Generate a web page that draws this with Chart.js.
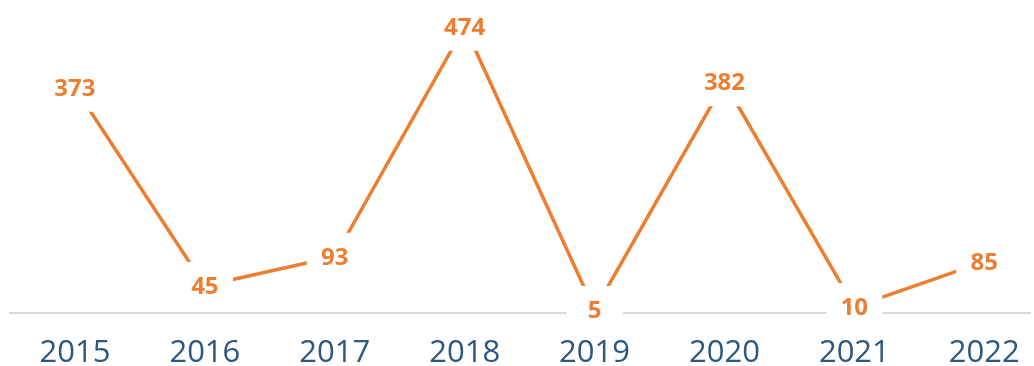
<!DOCTYPE html>
<html>
<head>
<meta charset="utf-8">
<script src="https://cdn.jsdelivr.net/npm/chart.js@4"></script>
<style>
  html, body { margin: 0; padding: 0; background: #ffffff; }
  #wrap { width: 1034px; height: 366px; }
</style>
</head>
<body>
<div id="wrap"><canvas id="chart" width="1034" height="366"></canvas></div>
<script>
const years = ['2015', '2016', '2017', '2018', '2019', '2020', '2021', '2022'];
const counts = [373, 45, 93, 474, 5, 382, 10, 85];

const lineColor = '#ED7D31';
const yearColor = '#2B5780';

// Value labels sit in white boxes centred on each point, hiding the line beneath
const valueLabels = {
  id: 'valueLabels',
  afterDatasetsDraw(chart) {
    const ctx = chart.ctx;
    const meta = chart.getDatasetMeta(0);
    ctx.save();
    ctx.font = 'bold 24px "Open Sans"';
    ctx.textAlign = 'center';
    ctx.textBaseline = 'middle';
    meta.data.forEach((pt, i) => {
      ctx.fillStyle = '#ffffff';
      ctx.fillRect(pt.x - 28, pt.y - 24, 56, 48);
      ctx.fillStyle = lineColor;
      ctx.fillText(String(counts[i]), pt.x, pt.y + 1);
    });
    ctx.restore();
  }
};

new Chart(document.getElementById('chart'), {
  type: 'line',
  data: {
    datasets: [{
      data: counts.map((v, i) => ({ x: i, y: v })),
      borderColor: lineColor,
      borderWidth: 3.5,
      pointRadius: 0,
      tension: 0,
      fill: false
    }]
  },
  options: {
    responsive: false,
    animation: false,
    layout: { padding: { left: 10, right: 4, top: 11, bottom: 0 } },
    plugins: { legend: { display: false }, tooltip: { enabled: false } },
    scales: {
      x: {
        type: 'linear',
        min: -0.5,
        max: 7.352,
        afterBuildTicks(scale) {
          scale.ticks = years.map((_, i) => ({ value: i }));
        },
        afterFit(scale) {
          scale.height = 53;
          scale.paddingLeft = 0;
          scale.paddingRight = 0;
        },
        grid: { display: false },
        border: { display: true, color: '#D9D9D9', width: 2 },
        ticks: {
          autoSkip: false,
          maxRotation: 0,
          padding: 17,
          color: yearColor,
          font: { family: 'Open Sans', size: 31, lineHeight: 1 },
          callback: (v) => years[v] ?? ''
        }
      },
      y: {
        display: false,
        min: 0,
        max: 500
      }
    }
  },
  plugins: [valueLabels]
});
</script>
</body>
</html>
